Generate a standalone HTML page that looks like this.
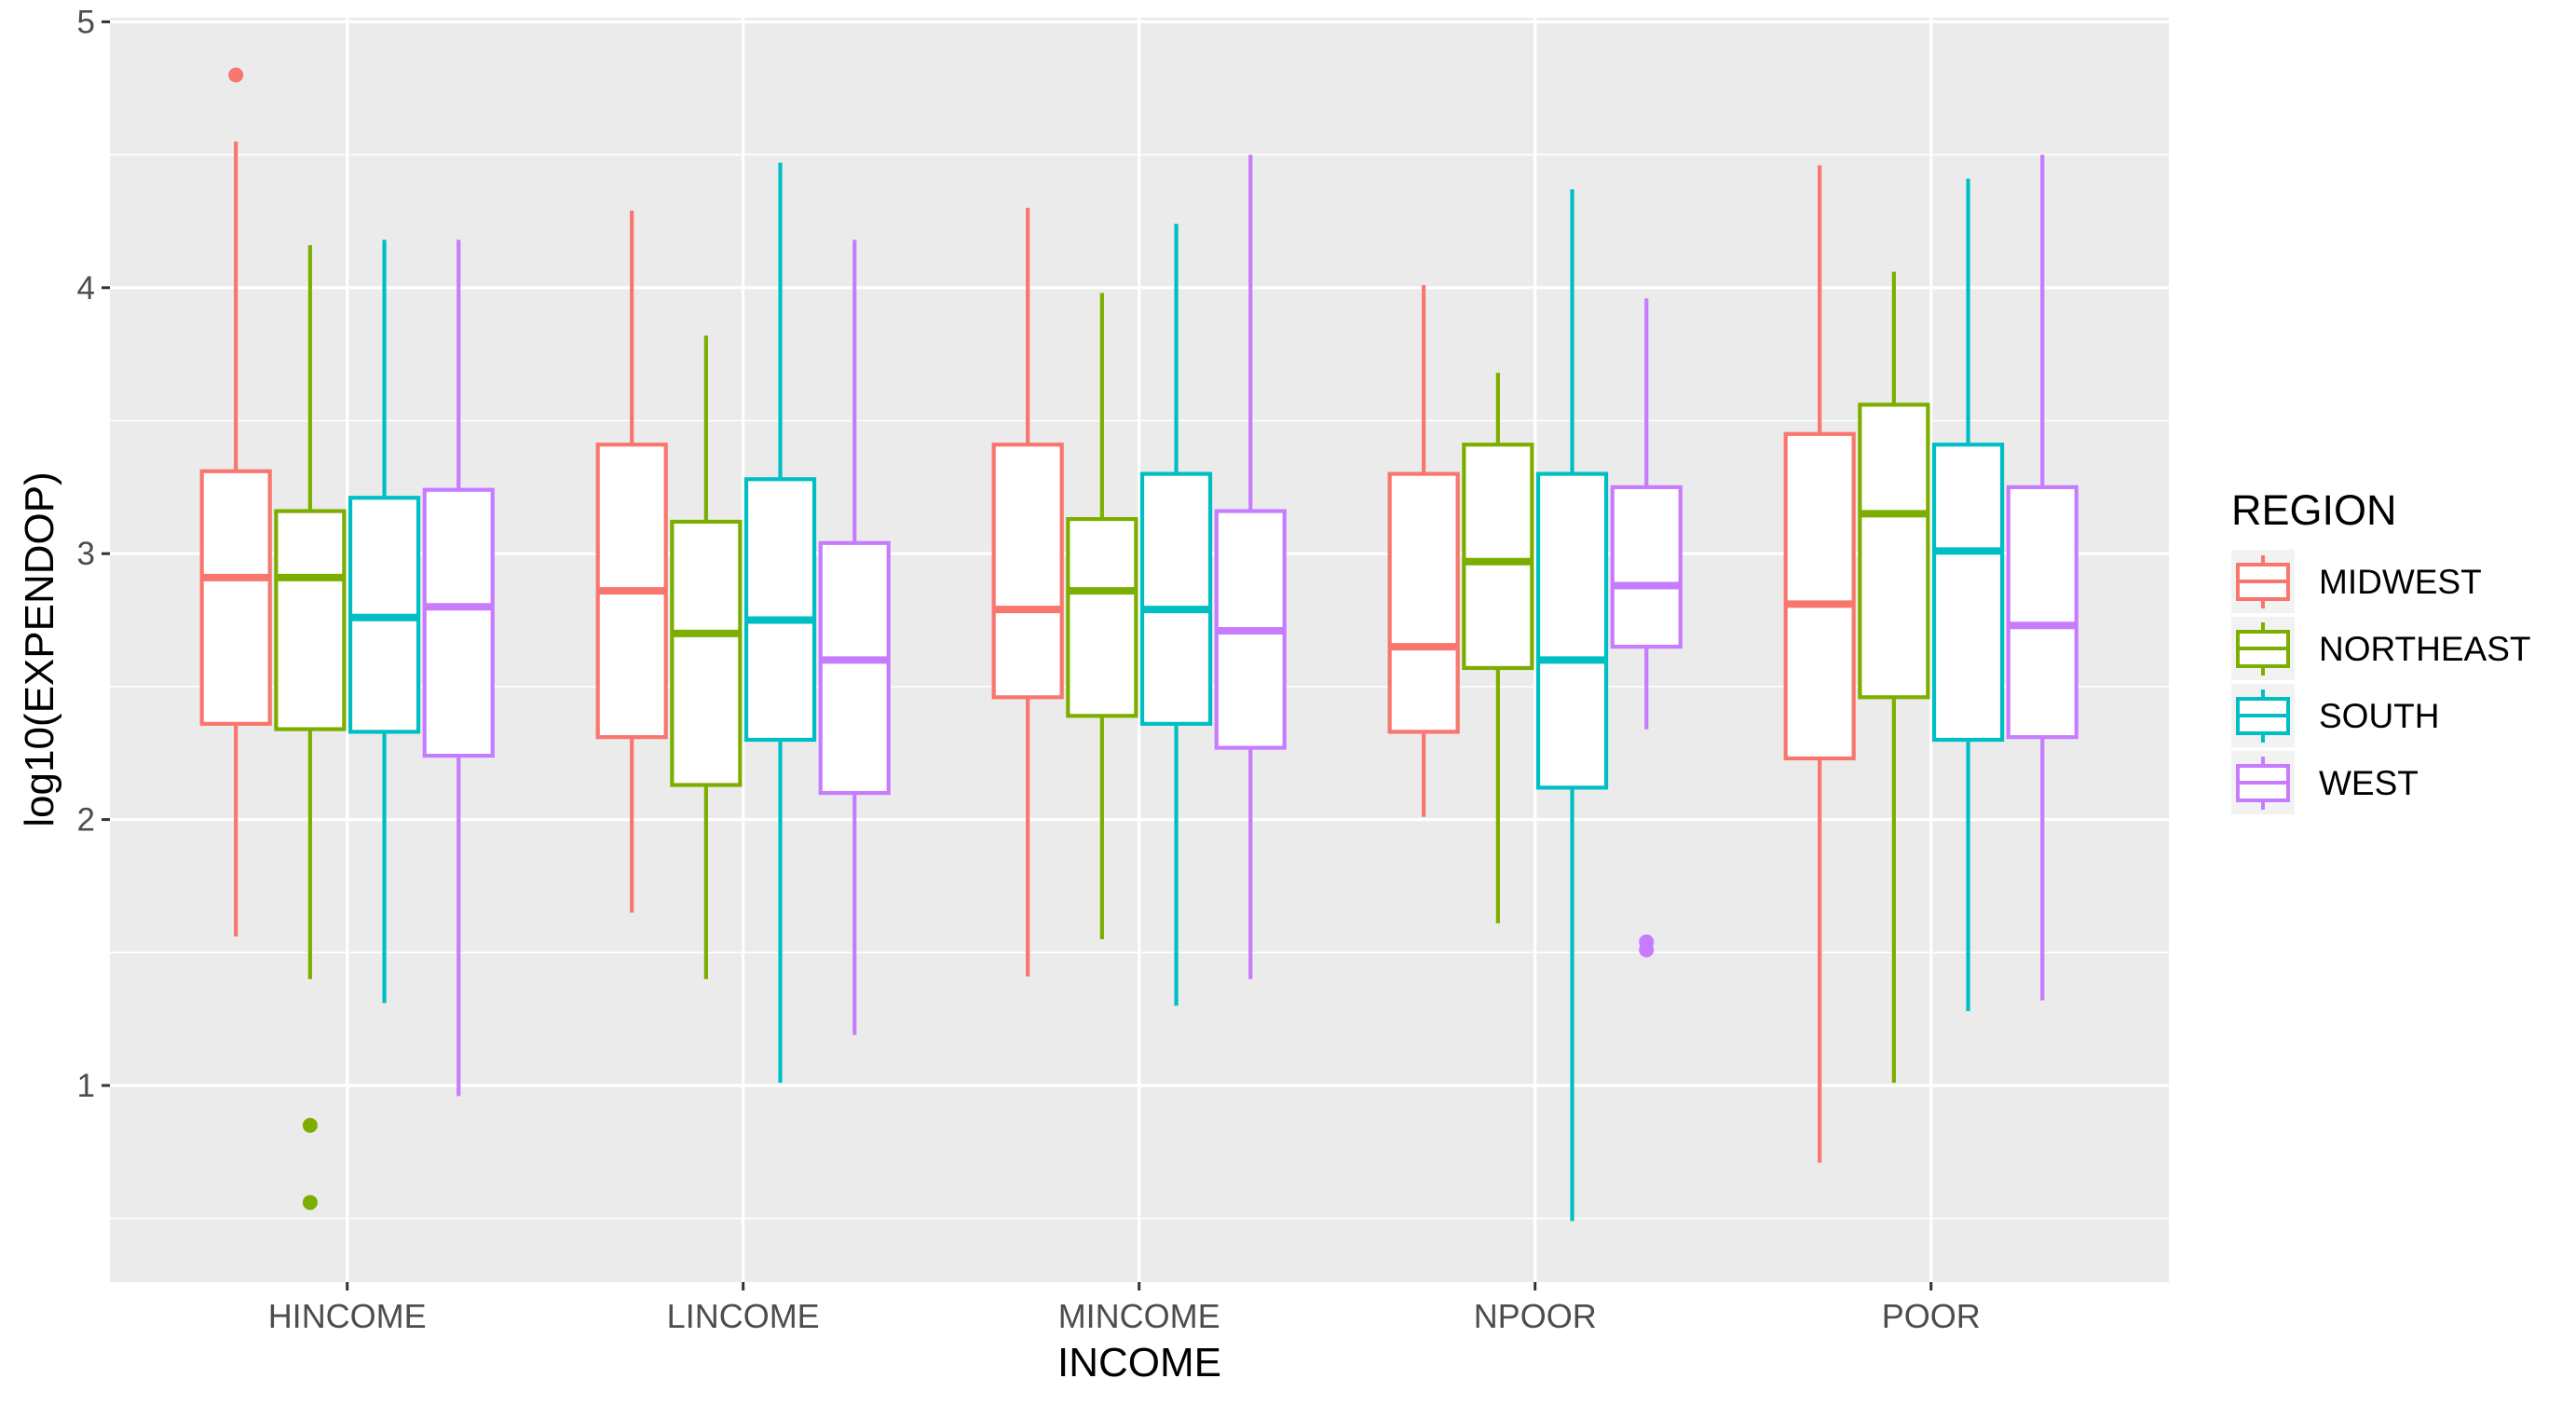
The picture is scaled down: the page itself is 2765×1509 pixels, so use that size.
<!DOCTYPE html>
<html><head><meta charset="utf-8"><style>
html,body{margin:0;padding:0;background:#fff;}
svg{display:block;font-family:"Liberation Sans",Arial,sans-serif;}
</style></head><body>
<svg id="chart" width="2765" height="1509" viewBox="0 0 2765 1509" xmlns="http://www.w3.org/2000/svg">
<rect x="0" y="0" width="2765" height="1509" fill="#fff"/>
<rect x="118" y="19" width="2210" height="1357" fill="#EBEBEB"/>
<g id="grid"></g><g id="marks"></g><g id="axes"></g><g id="legend"></g>
<text x="1223" y="1477" font-size="44" text-anchor="middle" fill="#000">INCOME</text>
<text transform="translate(57,697) rotate(-90)" font-size="44" text-anchor="middle" fill="#000">log10(EXPENDOP)</text>
</svg>
<script>
const categories = ["HINCOME","LINCOME","MINCOME","NPOOR","POOR"];
const regions = ["MIDWEST","NORTHEAST","SOUTH","WEST"];
const colors = ["#F8766D","#7CAE00","#00BFC4","#C77CFF"];
const yTicks = [1,2,3,4,5];
const yMinor = [0.5,1.5,2.5,3.5,4.5];
// [low whisker, Q1, median, Q3, high whisker] per category per region
const midwest   = [[1.56,2.36,2.91,3.31,4.55],[1.65,2.31,2.86,3.41,4.29],[1.41,2.46,2.79,3.41,4.30],[2.01,2.33,2.65,3.30,4.01],[0.71,2.23,2.81,3.45,4.46]];
const northeast = [[1.40,2.34,2.91,3.16,4.16],[1.40,2.13,2.70,3.12,3.82],[1.55,2.39,2.86,3.13,3.98],[1.61,2.57,2.97,3.41,3.68],[1.01,2.46,3.15,3.56,4.06]];
const south     = [[1.31,2.33,2.76,3.21,4.18],[1.01,2.30,2.75,3.28,4.47],[1.30,2.36,2.79,3.30,4.24],[0.49,2.12,2.60,3.30,4.37],[1.28,2.30,3.01,3.41,4.41]];
const west      = [[0.96,2.24,2.80,3.24,4.18],[1.19,2.10,2.60,3.04,4.18],[1.40,2.27,2.71,3.16,4.50],[2.34,2.65,2.88,3.25,3.96],[1.32,2.31,2.73,3.25,4.50]];
// outliers: [categoryIndex, regionIndex, value]
const outliers = [[0,0,4.80],[0,1,0.85],[0,1,0.56],[3,3,1.54],[3,3,1.51]];
const series = [midwest, northeast, south, west];

const NS="http://www.w3.org/2000/svg";
function mk(tag, attrs, parent){const e=document.createElementNS(NS,tag);for(const k in attrs)e.setAttribute(k,attrs[k]);parent.appendChild(e);return e;}
const panelL=118, panelR=2328, panelT=19, panelB=1376;
const step=425, x0=372.7;
function xScale(i){return x0+i*step;}
function yScale(v){return 1165-(v-1)*285.4;}
const dodge=step*0.1875, boxW=73;
function xPos(ci,ri){return xScale(ci)+(ri-1.5)*dodge;}

const grid=document.getElementById('grid');
yMinor.forEach(v=>{const l=mk('line',{x1:panelL,x2:panelR,y1:yScale(v),y2:yScale(v),stroke:'#fff','stroke-width':1.6},grid);

});
yTicks.forEach(v=>{const l=mk('line',{x1:panelL,x2:panelR,y1:yScale(v),y2:yScale(v),stroke:'#fff','stroke-width':3.2},grid);

});
categories.forEach((c,i)=>{const l=mk('line',{x1:xScale(i),x2:xScale(i),y1:panelT,y2:panelB,stroke:'#fff','stroke-width':3.2},grid);

});

const marks=document.getElementById('marks');
series.forEach((s,ri)=>{s.forEach((d,ci)=>{
 const cx=xPos(ci,ri), col=colors[ri];
 const g=mk('g',{},marks);
 
 
 mk('line',{x1:cx,x2:cx,y1:yScale(d[4]),y2:yScale(d[3]),stroke:col,'stroke-width':4.2},g);
 mk('line',{x1:cx,x2:cx,y1:yScale(d[1]),y2:yScale(d[0]),stroke:col,'stroke-width':4.2},g);
 mk('rect',{x:cx-boxW/2,y:yScale(d[3]),width:boxW,height:yScale(d[1])-yScale(d[3]),fill:'#fff',stroke:col,'stroke-width':4.2},g);
 mk('line',{x1:cx-boxW/2,x2:cx+boxW/2,y1:yScale(d[2]),y2:yScale(d[2]),stroke:col,'stroke-width':8},g);
});});
outliers.forEach(o=>{const c=mk('circle',{cx:xPos(o[0],o[1]),cy:yScale(o[2]),r:8,fill:colors[o[1]]},marks);

});

const axes=document.getElementById('axes');
yTicks.forEach(v=>{
 mk('line',{x1:panelL-9,x2:panelL,y1:yScale(v),y2:yScale(v),stroke:'#333','stroke-width':3},axes);
 const t=mk('text',{x:panelL-16,y:yScale(v)+12,'font-size':35,'text-anchor':'end',fill:'#4D4D4D'},axes);
 t.textContent=v;
 
 
});
categories.forEach((c,i)=>{
 mk('line',{x1:xScale(i),x2:xScale(i),y1:panelB,y2:panelB+9,stroke:'#333','stroke-width':3},axes);
 const t=mk('text',{x:xScale(i),y:1425,'font-size':36,'text-anchor':'middle',fill:'#4D4D4D'},axes);
 t.textContent=c;
 
 
});

const leg=document.getElementById('legend');
const lt=mk('text',{x:2395,y:563,'font-size':45,fill:'#000'},leg);
lt.textContent='REGION';


regions.forEach((r,i)=>{
 const cy=624+i*72, col=colors[i];
 const g=mk('g',{},leg);
 
 
 mk('rect',{x:2395,y:cy-34,width:68,height:68,fill:'#F2F2F2'},g);
 mk('line',{x1:2429,x2:2429,y1:cy-28,y2:cy+29,stroke:col,'stroke-width':4},g);
 mk('rect',{x:2402,y:cy-18,width:54,height:37,fill:'#fff',stroke:col,'stroke-width':4},g);
 mk('line',{x1:2402,x2:2456,y1:cy,y2:cy,stroke:col,'stroke-width':4},g);
 const t=mk('text',{x:2489,y:cy+13,'font-size':37,fill:'#000'},g);
 t.textContent=r;
});
</script>
</body></html>
